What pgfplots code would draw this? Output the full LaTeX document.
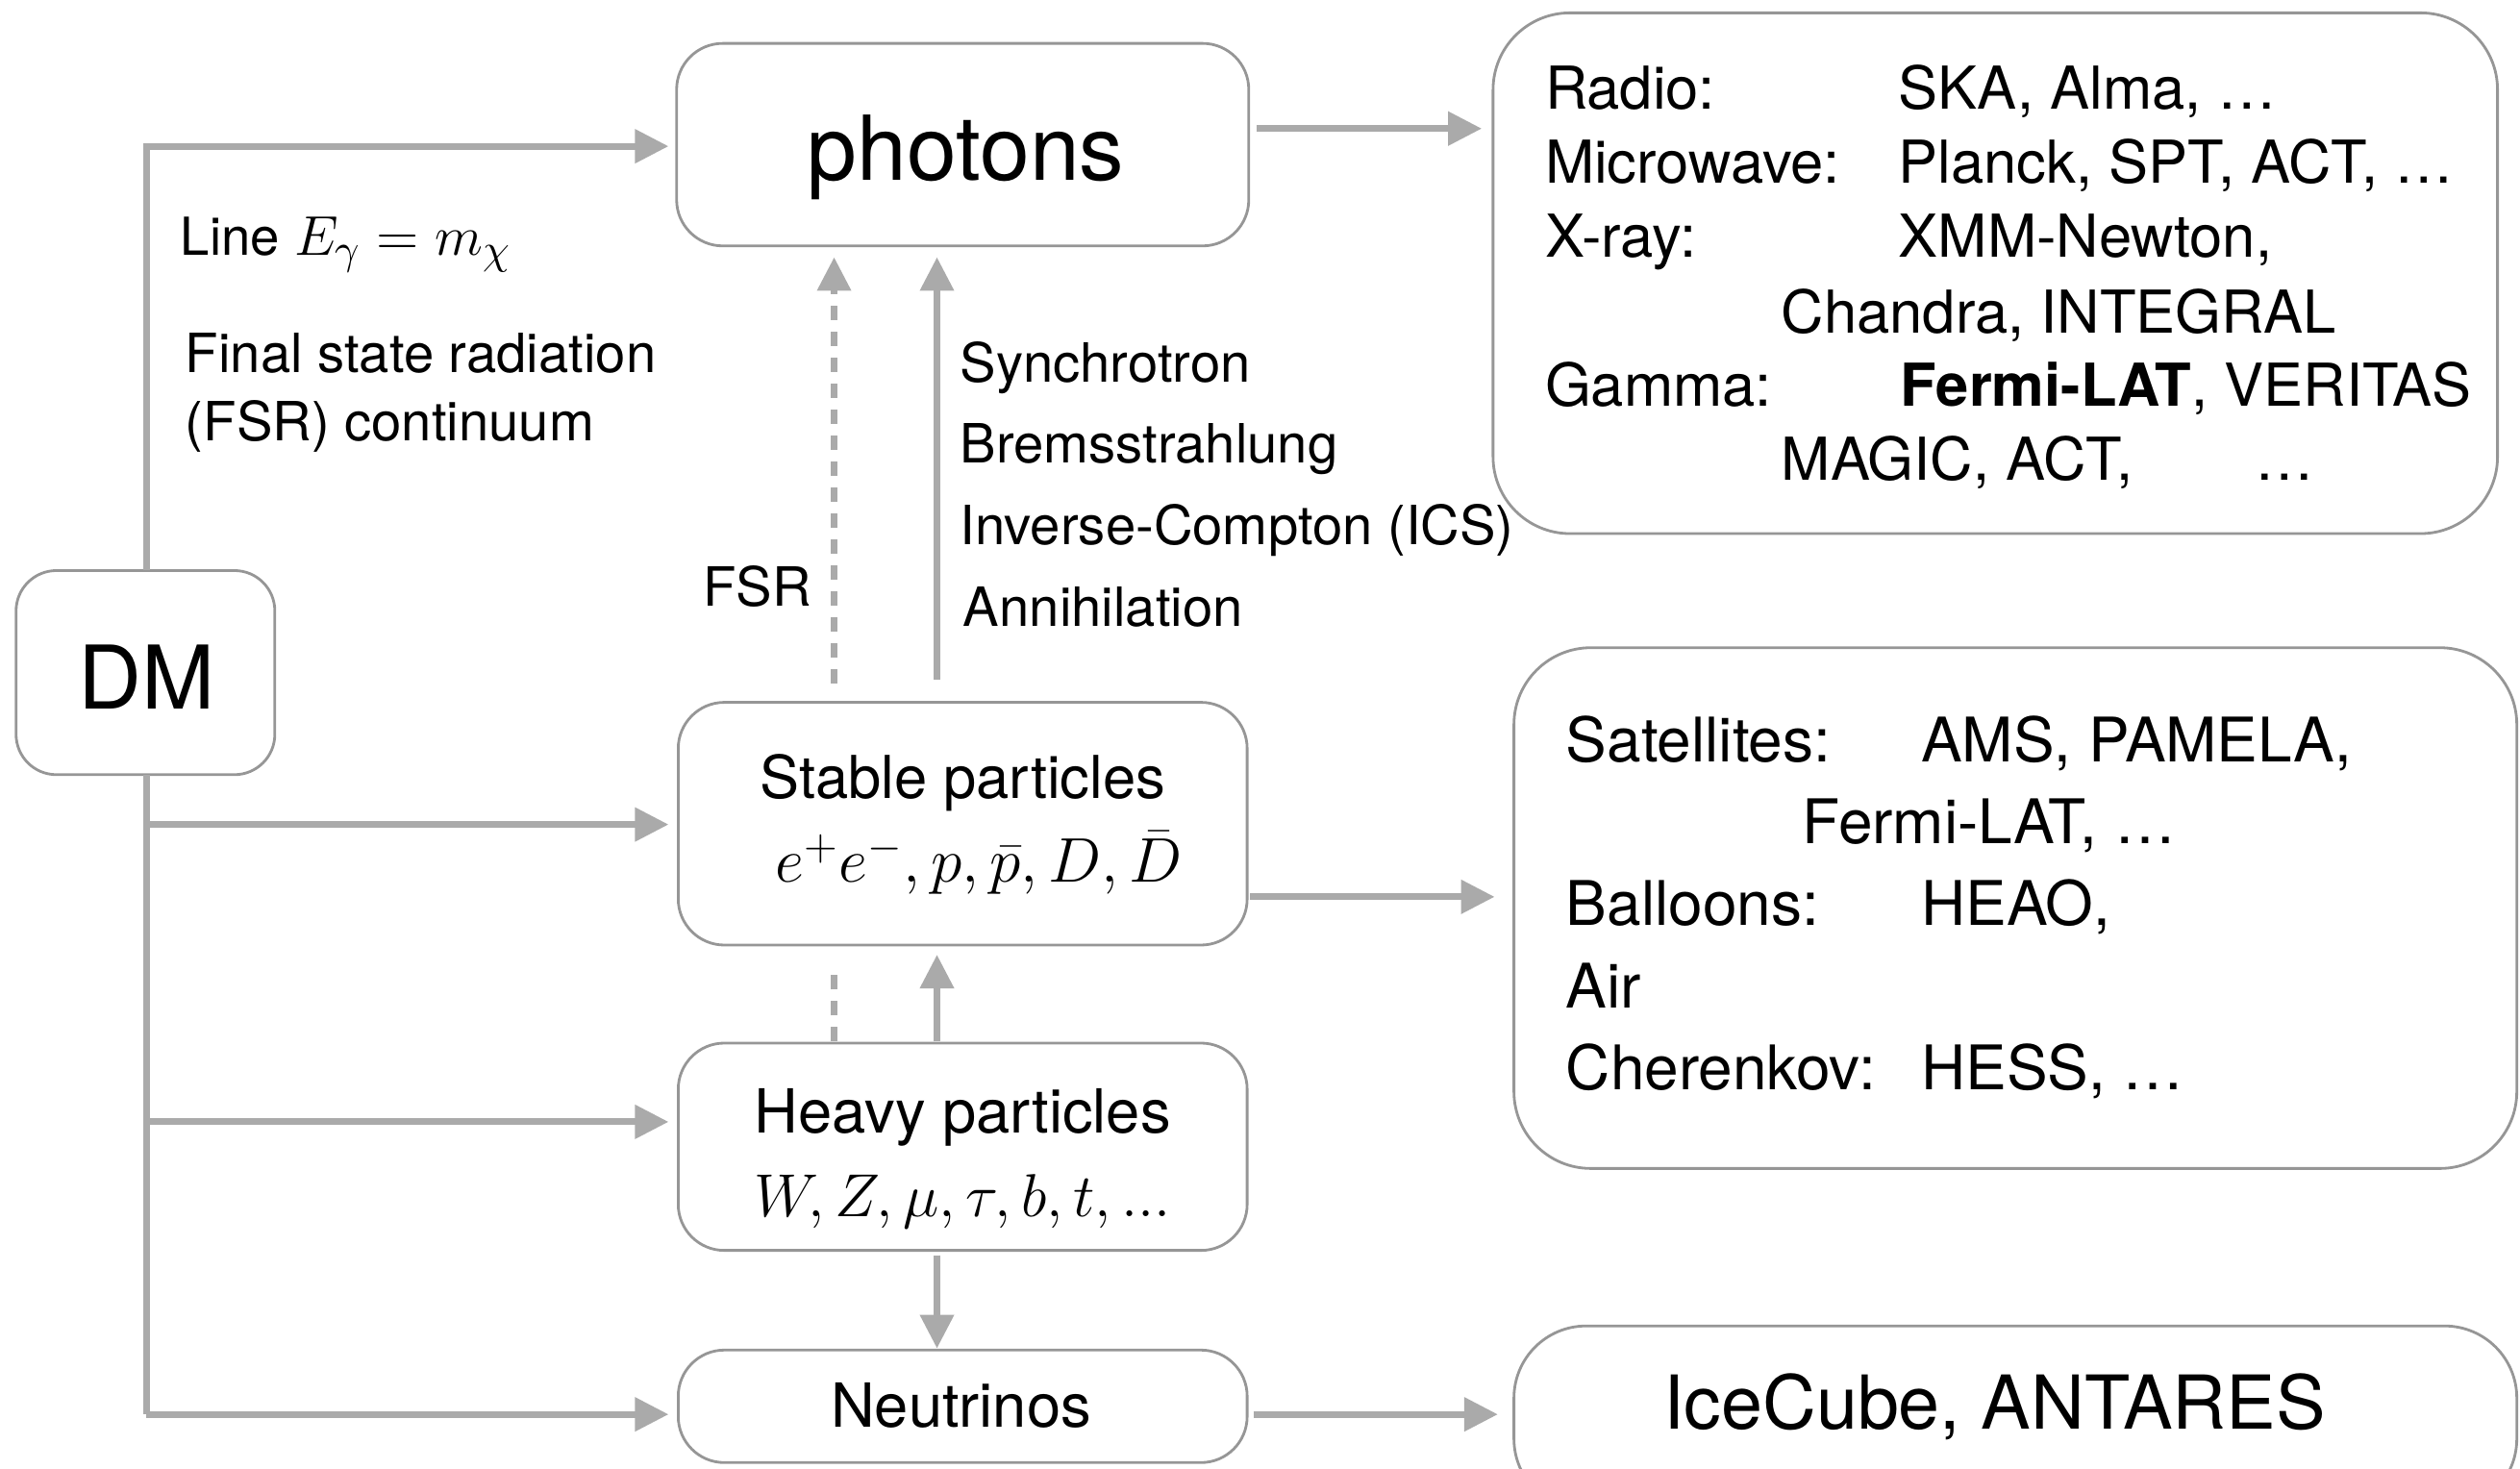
\documentclass[border=0pt]{standalone}
\usepackage{graphicx}
\usepackage{fontspec}
\setmainfont{TeX Gyre Heros}
\usepackage{pgfplots}
\pgfplotsset{compat=1.18}
\usetikzlibrary{arrows.meta}
\definecolor{lgray}{RGB}{170,170,170}
\definecolor{bgray}{RGB}{150,150,150}
\tikzset{
  garr/.style={draw=lgray,line width=2pt,-{Triangle[length=0.35cm,width=0.34cm]}},
  glin/.style={draw=lgray,line width=2pt},
  rbox/.style={draw=bgray,line width=0.8pt}}
\newcommand{\fs}[1]{\fontsize{#1}{#1}\selectfont}
\begin{document}
\begin{tikzpicture}
\begin{axis}[width=26.21cm,height=15.28cm,scale only axis,
  xmin=0,xmax=1568,ymin=0,ymax=914,y dir=reverse,hide axis,clip=true]
\path (axis cs:0,0) rectangle (axis cs:1568,914);
% boxes
\draw[rbox,rounded corners=0.42cm] (axis cs:10,355) rectangle (axis cs:171,482);
\draw[rbox,rounded corners=0.48cm] (axis cs:421,27) rectangle (axis cs:777,153);
\draw[rbox,rounded corners=0.48cm] (axis cs:422,437) rectangle (axis cs:776,588);
\draw[rbox,rounded corners=0.48cm] (axis cs:422,649) rectangle (axis cs:776,778);
\draw[rbox,rounded corners=0.48cm] (axis cs:422,840) rectangle (axis cs:776,910);
\draw[rbox,rounded corners=0.8cm] (axis cs:929,8) rectangle (axis cs:1554,332);
\draw[rbox,rounded corners=0.8cm] (axis cs:942,403) rectangle (axis cs:1566,727);
\draw[rbox,rounded corners=0.75cm] (axis cs:942,825) rectangle (axis cs:1566,940);
% connectors
\addplot[garr,mark=none] coordinates {(91,355) (91,91) (416,91)};
\addplot[glin,mark=none] coordinates {(91,482) (91,880)};
\addplot[garr,mark=none] coordinates {(91,513) (416,513)};
\addplot[garr,mark=none] coordinates {(91,698) (416,698)};
\addplot[garr,mark=none] coordinates {(91,880) (416,880)};
\addplot[garr,mark=none] coordinates {(782,80) (922,80)};
\addplot[garr,mark=none] coordinates {(778,558) (930,558)};
\addplot[garr,mark=none] coordinates {(780,880) (932,880)};
\addplot[garr,mark=none] coordinates {(583,423) (583,160)};
\addplot[garr,mark=none,dash pattern=on 0.15cm off 0.12cm] coordinates {(519,425) (519,160)};
\addplot[garr,mark=none] coordinates {(583,648) (583,594)};
\addplot[glin,mark=none,dash pattern=on 0.15cm off 0.12cm] coordinates {(519,648) (519,602)};
\addplot[garr,mark=none] coordinates {(583,781) (583,839)};
% texts
\node[anchor=base,inner sep=0] at (axis cs:91,441) {\fs{26}DM};
\node[anchor=base,inner sep=0] at (axis cs:601,112) {\fs{26.5}photons};
\node[anchor=base west,inner sep=0] at (axis cs:112,159) {\fs{15.5}Line \scalebox{1.15}{$E_\gamma = m_\chi$}};
\node[anchor=base west,inner sep=0] at (axis cs:115,232) {\fs{16}Final state radiation};
\node[anchor=base west,inner sep=0] at (axis cs:115,274) {\fs{16}(FSR) continuum};
\node[anchor=base west,inner sep=0] at (axis cs:437,377) {\fs{16}FSR};
\node[anchor=base west,inner sep=0] at (axis cs:597,238) {\fs{16}Synchrotron};
\node[anchor=base west,inner sep=0] at (axis cs:597,288) {\fs{16}Bremsstrahlung};
\node[anchor=base west,inner sep=0] at (axis cs:597,339) {\fs{16}Inverse-Compton (ICS)};
\node[anchor=base west,inner sep=0] at (axis cs:599,390) {\fs{16}Annihilation};
\node[anchor=base,inner sep=0] at (axis cs:599,497) {\fs{17.5}Stable particles};
\node[anchor=base,inner sep=0] at (axis cs:609,549) {\fs{17.5}\scalebox{1.08}{$e^+e^-, p, \bar{p}, D, \bar{D}$}};
\node[anchor=base,inner sep=0] at (axis cs:599,705) {\fs{18}Heavy particles};
\node[anchor=base,inner sep=0] at (axis cs:599,757) {\fs{18}\scalebox{1.04}{$W, Z, \mu, \tau, b, t, ...$}};
\node[anchor=base,inner sep=0] at (axis cs:598,888) {\fs{18}Neutrinos};
% radio box
\node[anchor=base west,inner sep=0] at (axis cs:961,68) {\fs{17.5}Radio:};
\node[anchor=base west,inner sep=0] at (axis cs:1181,68) {\fs{17.5}SKA, Alma, …};
\node[anchor=base west,inner sep=0] at (axis cs:961,114) {\fs{17.5}Microwave:};
\node[anchor=base west,inner sep=0] at (axis cs:1181,114) {\fs{17.5}Planck, SPT, ACT, …};
\node[anchor=base west,inner sep=0] at (axis cs:961,160) {\fs{17.5}X-ray:};
\node[anchor=base west,inner sep=0] at (axis cs:1181,160) {\fs{17.5}XMM-Newton,};
\node[anchor=base west,inner sep=0] at (axis cs:1108,207) {\fs{17.5}Chandra, INTEGRAL};
\node[anchor=base west,inner sep=0] at (axis cs:961,253) {\fs{17.5}Gamma:};
\node[anchor=base west,inner sep=0] at (axis cs:1182,253) {\fs{17.5}\textbf{Fermi-LAT}, VERITAS};
\node[anchor=base west,inner sep=0] at (axis cs:1108,299) {\fs{17.5}MAGIC, ACT,};
\node[anchor=base west,inner sep=0] at (axis cs:1403,299) {\fs{17.5}…};
% satellites box
\node[anchor=base west,inner sep=0] at (axis cs:974,474) {\fs{18.2}Satellites:};
\node[anchor=base west,inner sep=0] at (axis cs:1195,474) {\fs{18.2}AMS, PAMELA,};
\node[anchor=base west,inner sep=0] at (axis cs:1121,525) {\fs{18.2}Fermi-LAT, …};
\node[anchor=base west,inner sep=0] at (axis cs:974,576) {\fs{18.2}Balloons:};
\node[anchor=base west,inner sep=0] at (axis cs:1195,576) {\fs{18.2}HEAO,};
\node[anchor=base west,inner sep=0] at (axis cs:974,627) {\fs{18.2}Air};
\node[anchor=base west,inner sep=0] at (axis cs:974,678) {\fs{18.2}Cherenkov:};
\node[anchor=base west,inner sep=0] at (axis cs:1195,678) {\fs{18.2}HESS, …};
% icecube
\node[anchor=base,inner sep=0] at (axis cs:1241,889) {\fs{22}IceCube, ANTARES};
\end{axis}
\end{tikzpicture}
\end{document}
